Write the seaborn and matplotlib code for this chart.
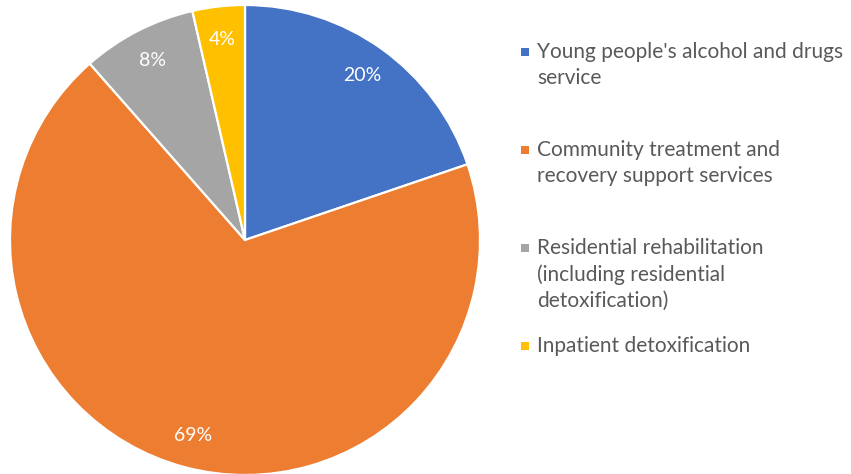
import matplotlib
matplotlib.use("Agg")
import matplotlib.pyplot as plt
from matplotlib.patches import Rectangle
import seaborn as sns

# Data (shares)
categories = [
    "Young people's alcohol and drugs\nservice",
    "Community treatment and\nrecovery support services",
    "Residential rehabilitation\n(including residential\ndetoxification)",
    "Inpatient detoxification",
]
shares = [19.8, 68.8, 7.9, 3.6]
colours = ["#4472C4", "#ED7D31", "#A5A5A5", "#FFC000"]

sns.set_theme(style="white")
plt.rcParams["font.family"] = ["Lato", "DejaVu Sans"]

W, H = 851, 474
fig = plt.figure(figsize=(W / 100, H / 100), dpi=100)
ax = fig.add_axes([10 / W, -1 / H, 470 / W, 470 / H])

palette = sns.color_palette(colours)
wedges, texts, autotexts = ax.pie(
    shares,
    colors=palette,
    startangle=90,
    counterclock=False,
    autopct="%.0f%%",
    pctdistance=0.86,
    radius=1,
    wedgeprops=dict(edgecolor="white", linewidth=1.6),
    textprops=dict(color="white", fontsize=14),
)
ax.set_xlim(-1, 1)
ax.set_ylim(-1, 1)
ax.set_aspect("equal")

# legend laid out like the Excel one: fixed step per entry
first_y = 52
step = 98
for i, (lab, col) in enumerate(zip(categories, palette)):
    yc = first_y + i * step
    fig.patches.append(Rectangle((521 / W, 1 - (yc + 4) / H), 8 / W, 8 / H,
                                 transform=fig.transFigure, facecolor=col,
                                 edgecolor="none"))
    fig.text(537 / W, 1 - (yc - 10) / H, lab, ha="left", va="top",
             fontsize=15, color="#595959", linespacing=1.38)

fig.savefig("out.png", dpi=100)
